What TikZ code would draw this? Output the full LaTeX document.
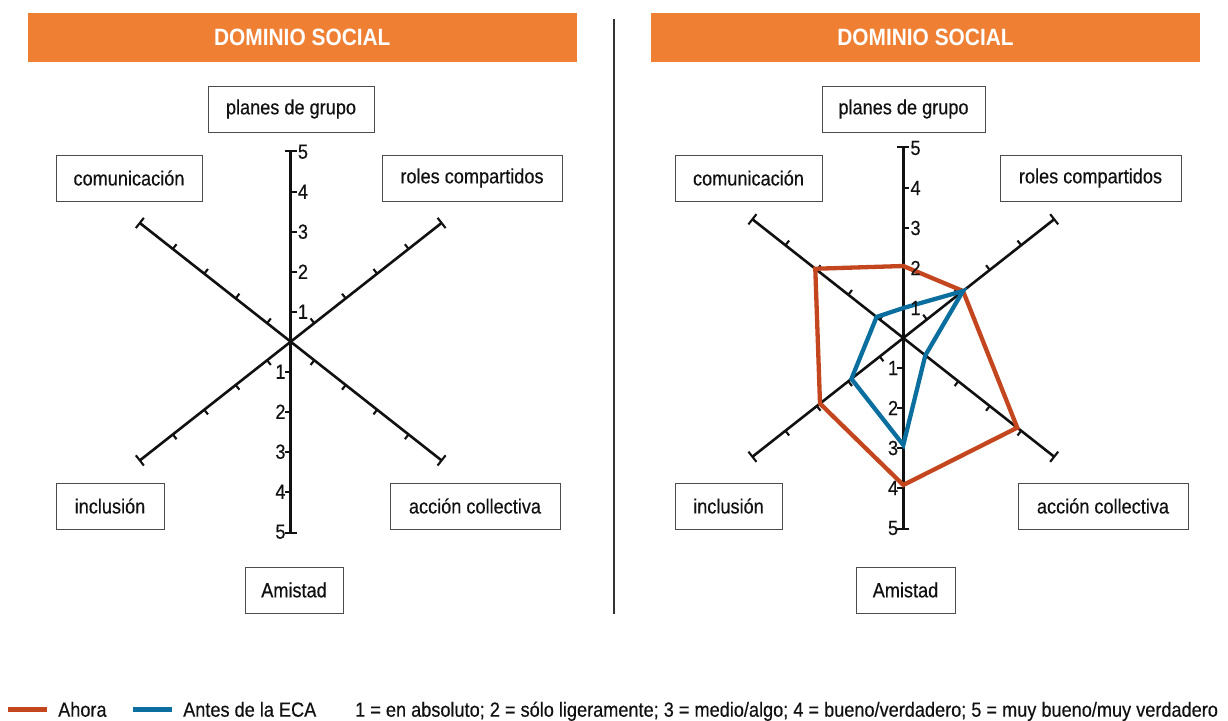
\documentclass[tikz,border=0pt]{standalone}
\usepackage{fontspec}
\setmainfont{Liberation Sans}[FakeStretch=0.885, UprightFeatures={FakeBold=0.35}]
\usetikzlibrary{calc}
\definecolor{hdr}{HTML}{EF7F33}
\definecolor{ahora}{HTML}{C4461F}
\definecolor{antes}{HTML}{0A6E9E}
\definecolor{ink}{HTML}{111111}
\tikzset{
  hdrbox/.style={fill=hdr, draw=none, text=white, inner sep=0pt,
    font=\bfseries\fontsize{23.6}{23.6}\selectfont},
  catbox/.style={draw=black!70, line width=0.9pt, fill=white, minimum height=46pt,
    inner sep=0pt, font=\fontsize{20.5}{20.5}\selectfont, text=ink},
  axisline/.style={line width=2.6pt, draw=ink},
  tickline/.style={line width=2.1pt, draw=ink},
  numlbl/.style={font=\fontsize{20.5}{20.5}\selectfont, text=ink, inner sep=0pt},
  series/.style={line width=4.3pt},
  legendtext/.style={font=\fontsize{20.5}{20.5}\selectfont, text=ink, inner sep=0pt},
  swatch/.style={line width=4.5pt},
}
\newcommand\radarframe{%
  \draw[axisline] (0,-191) -- (0,191);
  \draw[tickline] (-6,191) -- (6,191);
  \draw[tickline] (-6,-191) -- (6,-191);
  \foreach \r in {30,70,110,150}{
    \draw[tickline] (0,\r) -- (6,\r);
    \draw[tickline] (0,-\r) -- (-6,-\r);
  }
  \foreach \t/\p in {38.2/128.2, 141.8/51.8, 218.2/308.2, 321.8/231.8}{
    \draw[axisline] (0,0) -- (\t:192);
    \draw[tickline] ($(\t:192)+(\t+90:6.5)$) -- ($(\t:192)+(\t-90:6.5)$);
    \foreach \r in {30,70,110,150}{
      \draw[tickline] (\t:\r) -- ($(\t:\r)+(\p:6)$);
    }
  }
}
\newcommand\radarnums{%
  \foreach \r/\n in {30/1,70/2,110/3,150/4,190/5}{
    \node[numlbl, anchor=west] at (7,\r) {\n};
    \node[numlbl, anchor=east] at (-5,-\r) {\n};
  }
}
\begin{document}
\begin{tikzpicture}[x=1pt,y=1pt]
\useasboundingbox (0,0) rectangle (1228,-720);
\fill[white] (0,0) rectangle (1228,-720);

% headers
\node[hdrbox, minimum width=548.7pt, minimum height=48.7pt] (h1) at (302.3,-37.4) {DOMINIO SOCIAL};
\node[hdrbox, minimum width=549pt, minimum height=48.7pt] (h2) at (925.5,-37.4) {DOMINIO SOCIAL};

% separator
\draw[line width=1.6pt, draw=black!80] (614,-19) -- (614,-614);

% left chart
\begin{scope}[shift={(290.7,-341.7)}]
  \radarframe
  \radarnums
\end{scope}
\node[catbox, minimum width=166pt] (lplan) at (291,-109) {planes de grupo};
\node[catbox, minimum width=146pt] (lcom) at (129,-178) {comunicación};
\node[catbox, minimum width=180pt] (lrol) at (472,-178) {roles compartidos};
\node[catbox, minimum width=108pt] (linc) at (110,-506) {inclusión};
\node[catbox, minimum width=170pt] (lacc) at (475,-506) {acción collectiva};
\node[catbox, minimum width=98pt] (lami) at (294,-590) {Amistad};

% right chart
\begin{scope}[shift={(903.3,-338)}]
  \radarframe
  \draw[series, draw=ahora] (90:72) -- (38.2:76) -- (321.8:145) -- (270:147)
     -- (218.2:106) -- (141.8:112) -- cycle;
  \draw[series, draw=antes] (90:30) -- (38.2:76) -- (321.8:28) -- (270:107)
     -- (218.2:66) -- (141.8:34) -- cycle;
  \radarnums
\end{scope}
\node[catbox, minimum width=163pt] (rplan) at (903.5,-109) {planes de grupo};
\node[catbox, minimum width=147pt] (rcom) at (748.5,-178) {comunicación};
\node[catbox, minimum width=181pt] (rrol) at (1090.5,-178) {roles compartidos};
\node[catbox, minimum width=107pt] (rinc) at (728.5,-506) {inclusión};
\node[catbox, minimum width=170pt] (racc) at (1103,-506) {acción collectiva};
\node[catbox, minimum width=99pt] (rami) at (905.5,-590) {Amistad};

% legend
\draw[swatch, draw=ahora] (8,-709.5) -- (47,-709.5);
\node[legendtext, anchor=base west] (lg1) at (58,-716.7) {Ahora};
\draw[swatch, draw=antes] (133,-709.5) -- (172,-709.5);
\node[legendtext, anchor=base west] (lg2) at (183,-716.7) {Antes de la ECA};
\node[legendtext, anchor=base west] (lg3) at (355,-716.7) {1 = en absoluto; 2 = sólo ligeramente; 3 = medio/algo; 4 = bueno/verdadero; 5 = muy bueno/muy verdadero};
\end{tikzpicture}
\end{document}
